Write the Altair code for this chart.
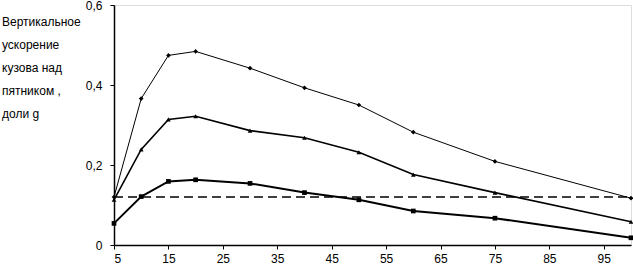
import altair as alt
import pandas as pd

speeds = [5, 10, 15, 20, 30, 40, 50, 60, 75, 100]
s1 = [0.120, 0.366, 0.474, 0.484, 0.442, 0.393, 0.350, 0.282, 0.209, 0.117]
s2 = [0.113, 0.239, 0.314, 0.322, 0.286, 0.268, 0.232, 0.176, 0.131, 0.058]
s3 = [0.054, 0.121, 0.159, 0.163, 0.154, 0.131, 0.113, 0.085, 0.067, 0.018]
limit_x = [5, 100]
limit_y = [0.12, 0.12]
x_ticks = [5, 15, 25, 35, 45, 55, 65, 75, 85, 95]
y_ticks = [0, 0.2, 0.4, 0.6]
ylabel_lines = ["Вертикальное", "ускорение", "кузова над", "пятником ,", "доли g"]

FONT = "Liberation Sans"

xscale = alt.Scale(domain=[5, 100], nice=False, zero=False)
yscale = alt.Scale(domain=[0, 0.6], nice=False)

xaxis = alt.Axis(values=x_ticks, title=None, grid=False, domain=True, domainColor="black",
                 domainWidth=1.5, tickColor="black", tickSize=4, labelFont=FONT,
                 labelFontSize=12, labelColor="black", labelPadding=4)
yaxis = alt.Axis(values=y_ticks, title=None, grid=False, domain=True, domainColor="black",
                 domainWidth=1.5, tickColor="black", tickSize=4, labelFont=FONT,
                 labelFontSize=12, labelColor="black", labelPadding=8,
                 labelExpr="datum.value == 0 ? '0' : replace(format(datum.value, '.1f'), '.', ',')")

X = alt.X("x:Q", scale=xscale, axis=xaxis)
Y = alt.Y("y:Q", scale=yscale, axis=yaxis)


def series(vals, shape, lw, size):
    df = pd.DataFrame({"x": speeds, "y": vals})
    return alt.Chart(df).mark_line(
        color="black", strokeWidth=lw,
        point=alt.OverlayMarkDef(shape=shape, filled=True, color="black", size=size)
    ).encode(x=X, y=Y)


limit_df = pd.DataFrame({"x": limit_x, "y": limit_y})
limit = alt.Chart(limit_df).mark_line(color="black", strokeWidth=1.6, strokeDash=[9, 5]).encode(
    x=X, y=Y
)

label_layers = []
for i, t in enumerate(ylabel_lines):
    label_layers.append(
        alt.Chart(pd.DataFrame({"t": [t]})).mark_text(
            align="left", baseline="middle", font=FONT, fontSize=12, color="black"
        ).encode(x=alt.value(-112), y=alt.value(17 + i * 23), text="t:N")
    )

chart = alt.layer(
    limit,
    series(s1, "diamond", 1.0, 22),
    series(s2, "triangle-up", 1.6, 22),
    series(s3, "square", 2.0, 22),
    *label_layers,
).properties(
    width=517, height=240,
    padding={"left": 114, "top": 5, "right": 2, "bottom": 25},
    autosize=alt.AutoSizeParams(type="none"),
).configure_view(
    stroke="#808080", strokeWidth=1.5
).configure(background="white")

chart.save("out.html", embed_options={"renderer": "svg", "actions": False})
